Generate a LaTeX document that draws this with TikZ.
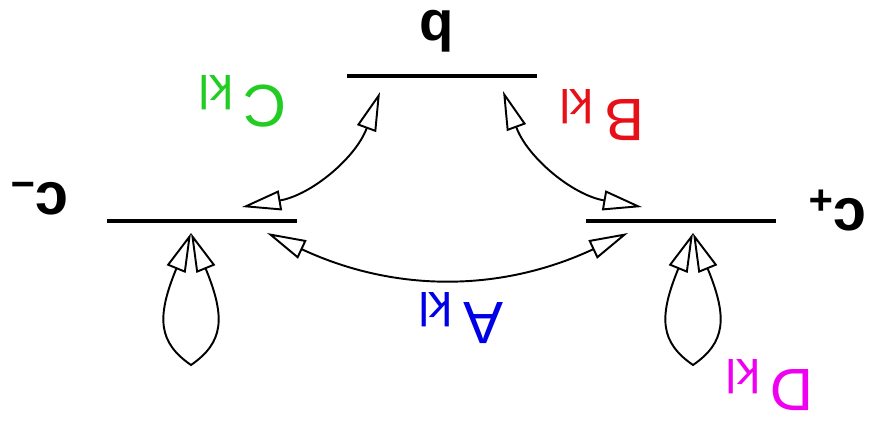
\documentclass[tikz,border=0pt]{standalone}
\usepackage{fontspec}
\setmainfont{Liberation Sans}
\usetikzlibrary{arrows.meta}
\definecolor{ckl}{RGB}{34,204,34}
\definecolor{bkl}{RGB}{232,16,24}
\definecolor{akl}{RGB}{0,0,230}
\definecolor{dkl}{RGB}{240,0,240}
\newcommand{\klsub}{\hspace{6pt}\raisebox{-5.7pt}{\fontsize{27}{30}\selectfont kl}}
\begin{document}
\begin{tikzpicture}[
  >={Triangle[open,length=0.78cm,width=0.4cm]},
  level/.style={line width=2.3pt},
  trans/.style={line width=1.1pt,<->},
  rate/.style={inner sep=0pt,rotate=180,font=\fontsize{34}{40}\selectfont},
  state/.style={inner sep=0pt,font=\fontsize{34}{40}\selectfont\bfseries}
]
\useasboundingbox (0,0) rectangle (17.5,8.56);

% levels
\draw[level] (2.14,4.14) coordinate (ml) -- (5.94,4.14) coordinate (mr);
\draw[level] (6.94,7.04) coordinate (ql) -- (10.74,7.04) coordinate (qr);
\draw[level] (11.72,4.14) coordinate (pl) -- (15.52,4.14) coordinate (pr);

\node[state,font=\fontsize{32}{38}\selectfont\bfseries] (q) at (8.74,7.94) {q};
\node[state,xscale=-1] (cm) at (0.78,4.58) {c\textsuperscript{−}};
\node[state,xscale=-1] (cp) at (16.75,4.35) {c\textsuperscript{+}};

% arrow ends
\coordinate (qa) at (7.60,6.72);
\coordinate (qb) at (10.06,6.74);
\coordinate (ma) at (4.84,4.42);
\coordinate (mb) at (5.34,3.90);
\coordinate (pa) at (12.84,4.42);
\coordinate (pb) at (12.56,3.90);
\coordinate (mt) at (3.82,3.90);
\coordinate (mbot) at (3.82,1.26);
\coordinate (pt) at (13.86,3.90);
\coordinate (pbot) at (13.86,1.26);

\draw[trans] (qa) to[bend left=30] (ma);
\draw[trans] (qb) to[bend right=30] (pa);
\draw[trans] (mb) to[bend right=25] (pb);
\draw[trans] (mt) .. controls +(-0.7,-1.7) and +(-0.65,0.45) .. (mbot)
  .. controls +(0.65,0.45) and +(0.7,-1.7) .. (mt);
\draw[trans] (pt) .. controls +(-0.7,-1.7) and +(-0.65,0.45) .. (pbot)
  .. controls +(0.65,0.45) and +(0.7,-1.7) .. (pt);

\node[rate,ckl] (c) at (4.86,6.54) {C\klsub};
\node[rate,bkl] (b) at (12.04,6.26) {B\klsub};
\node[rate,akl] (a) at (9.22,2.20) {A\klsub};
\node[rate,dkl] (d) at (15.40,0.86) {D\klsub};
\end{tikzpicture}
\end{document}
